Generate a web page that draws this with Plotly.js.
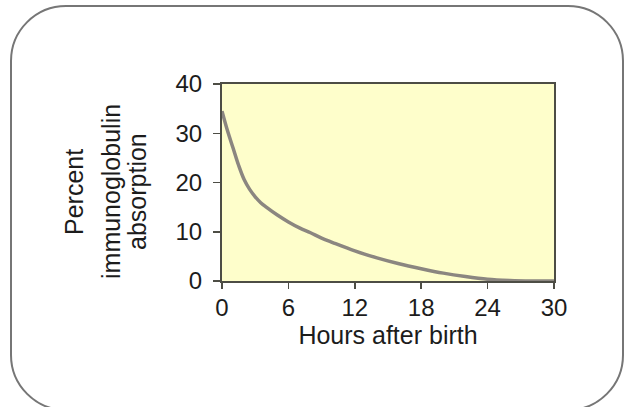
<!DOCTYPE html>
<html>
<head>
<meta charset="utf-8">
<script src="https://cdn.plot.ly/plotly-3.0.1.min.js"></script>
<style>
  html, body { margin: 0; padding: 0; background: #ffffff; }
  #wrap { position: relative; width: 628px; height: 407px; overflow: hidden; }
  #frame { position: absolute; left: 10px; top: 5px; width: 614px; height: 406px;
           border: 2px solid #767676; border-radius: 56px; box-sizing: border-box; }
  #chart { position: absolute; left: 0; top: 0; width: 628px; height: 407px; }
</style>
</head>
<body>
<div id="wrap">
  <div id="frame"></div>
  <div id="chart"></div>
</div>
<script>
// Data
const hours = [0, 0.5, 1, 1.5, 2, 2.5, 3, 3.5, 4, 5, 6, 7, 8, 9, 10, 12, 14, 16, 18, 20, 22, 24, 26, 28, 30];
const absorption = [34.5, 30.5, 27, 23.5, 20.6, 18.6, 17.1, 15.9, 15, 13.4, 12, 10.8, 9.8, 8.7, 7.8, 6.1, 4.7, 3.5, 2.5, 1.6, 0.9, 0.35, 0.1, 0, 0];
const xTicks = [0, 6, 12, 18, 24, 30];
const yTicks = [0, 10, 20, 30, 40];
const xTitle = 'Hours after birth';
const yTitleLines = ['Percent', 'immunoglobulin', 'absorption'];

const FONT = 'Liberation Sans, Arial, Helvetica, sans-serif';
const TXT = '#1c1c1c';

const trace = {
  x: hours,
  y: absorption,
  type: 'scatter',
  mode: 'lines',
  line: { color: '#8b8680', width: 3.5, shape: 'spline', smoothing: 1 },
  hoverinfo: 'skip'
};

const ml = 222, mr = 74, mt = 84, mb = 126;
const plotH = 407 - mt - mb;
const titleCenterY = 192; // pixel
const lineX = [74, 111, 137]; // pixel centres of the three title lines

const annotations = yTitleLines.map((t, i) => ({
  text: t, xref: 'paper', yref: 'paper', x: 0, y: 0.5,
  xanchor: 'center', yanchor: 'middle', textangle: -90, showarrow: false,
  xshift: lineX[i] - ml, yshift: (mt + plotH / 2) - titleCenterY,
  font: { family: FONT, size: 25, color: TXT }
}));

const layout = {
  width: 628, height: 407,
  margin: { l: ml, r: mr, t: mt, b: mb, pad: 0 },
  paper_bgcolor: 'rgba(0,0,0,0)',
  plot_bgcolor: '#fefecb',
  showlegend: false,
  font: { family: FONT, size: 24, color: TXT },
  xaxis: {
    range: [0, 30], tickvals: xTicks, ticktext: xTicks.map(String),
    showgrid: false, zeroline: false, showline: true, mirror: true,
    linecolor: '#4d4d45', linewidth: 2,
    ticks: 'outside', ticklen: 6, tickwidth: 1.5, tickcolor: '#4d4d45',
    ticklabelstandoff: -2,
    tickfont: { family: FONT, size: 24, color: TXT },
    title: { text: xTitle, font: { family: FONT, size: 25, color: TXT }, standoff: 0 },
    fixedrange: true
  },
  yaxis: {
    range: [0, 40], tickvals: yTicks, ticktext: yTicks.map(String),
    showgrid: false, zeroline: false, showline: true, mirror: true,
    linecolor: '#4d4d45', linewidth: 2,
    ticks: 'outside', ticklen: 7, tickwidth: 1.5, tickcolor: '#4d4d45',
    ticklabelstandoff: 6,
    tickfont: { family: FONT, size: 24, color: TXT },
    fixedrange: true
  },
  annotations: annotations
};

Plotly.newPlot('chart', [trace], layout, { displayModeBar: false, staticPlot: true });
</script>
</body>
</html>
